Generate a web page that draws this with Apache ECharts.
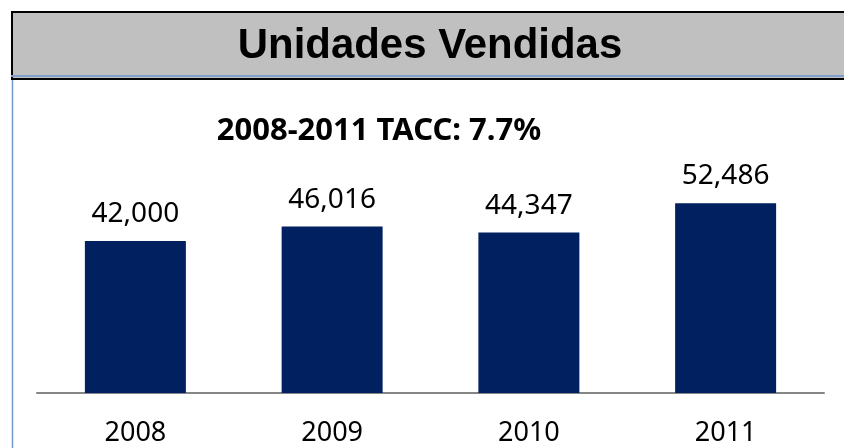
<!DOCTYPE html>
<html>
<head>
<meta charset="utf-8">
<script src="https://cdn.jsdelivr.net/npm/echarts@6/dist/echarts.min.js"></script>
<style>
  html, body { margin: 0; padding: 0; background: #fff; }
  #chart { width: 844px; height: 448px; }
</style>
</head>
<body>
<div id="chart"></div>
<script>
var titleText = 'Unidades Vendidas';
var subtitleText = '2008-2011 TACC: 7.7%';
var years = ['2008', '2009', '2010', '2011'];
var unitsSold = [42000, 46016, 44347, 52486];

var myChart = echarts.init(document.getElementById('chart'));

var option = {
    backgroundColor: '#ffffff',
    animation: false,
    graphic: [
        // header box
        {
            type: 'rect',
            shape: { x: 12, y: 12, width: 840, height: 67 },
            style: { fill: '#c0c0c0', stroke: '#000', lineWidth: 2 }
        },
        {
            type: 'line',
            shape: { x1: 11, y1: 76, x2: 844, y2: 76 },
            style: { stroke: '#7f9fcf', lineWidth: 2 }
        },
        {
            type: 'line',
            shape: { x1: 12.5, y1: 80, x2: 12.5, y2: 448 },
            style: { stroke: '#7399cb', lineWidth: 1.5 }
        },
        {
            type: 'text',
            x: 430,
            y: 46,
            scaleX: 0.975,
            style: {
                text: titleText,
                fill: '#000',
                font: 'bold 43px "Liberation Sans", Arial, sans-serif',
                align: 'center',
                verticalAlign: 'middle'
            }
        },
        {
            type: 'text',
            x: 379,
            y: 131,
            style: {
                text: subtitleText,
                fill: '#000',
                font: 'bold 31px "Noto Sans", sans-serif',
                align: 'center',
                verticalAlign: 'middle'
            }
        }
    ],
    grid: {
        left: 37,
        right: 20,
        top: 176,
        bottom: 55
    },
    xAxis: {
        type: 'category',
        data: years,
        axisLine: { lineStyle: { color: '#868686', width: 2 } },
        axisTick: { show: false },
        axisLabel: {
            color: '#000',
            fontFamily: 'Noto Sans',
            fontSize: 27,
            margin: 27
        }
    },
    yAxis: {
        type: 'value',
        min: 0,
        max: 60000,
        show: false,
        splitLine: { show: false }
    },
    series: [{
        name: titleText,
        type: 'bar',
        barWidth: 101,
        data: unitsSold,
        itemStyle: { color: '#002060' },
        label: {
            show: true,
            position: 'top',
            distance: 13,
            color: '#000',
            fontFamily: 'Noto Sans',
            fontSize: 28,
            formatter: function (p) {
                return echarts.format.addCommas(p.value);
            }
        }
    }]
};

myChart.setOption(option);
</script>
</body>
</html>
